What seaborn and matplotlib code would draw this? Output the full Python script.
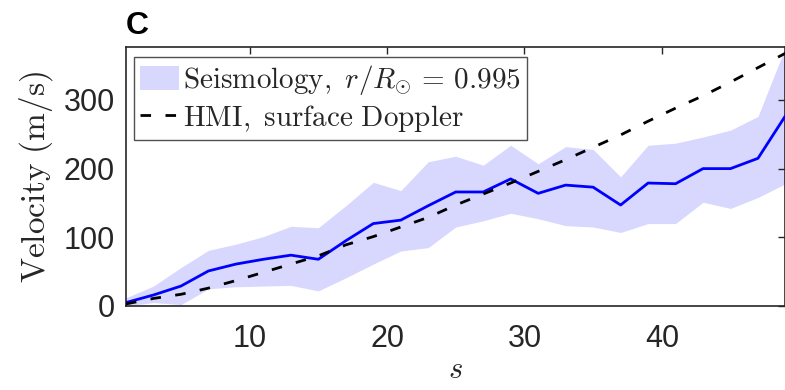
import numpy as np
import pandas as pd
import matplotlib
matplotlib.use("Agg")
import matplotlib.pyplot as plt
import seaborn as sns

# ---- data ----
s_vals = [1, 3, 5, 7, 9, 11, 13, 15, 17, 19, 21, 23, 25, 27, 29, 31, 33, 35, 37, 39, 41, 43, 45, 47, 49]
seis_mean = [5, 16, 29, 51, 61, 68, 74, 68, 95, 120, 125, 146, 166, 166, 185, 164, 176, 173, 147, 179, 178, 200, 200, 215, 277]
seis_upper = [12, 29, 56, 81, 90, 101, 116, 114, 146, 180, 168, 210, 218, 205, 234, 207, 232, 228, 188, 234, 237, 246, 256, 276, 377]
seis_lower = [0, 5, 2, 25, 28, 29, 30, 22, 41, 61, 80, 85, 115, 124, 135, 127, 117, 115, 107, 120, 120, 151, 142, 158, 178]
hmi_vals = [3, 11, 17, 26, 37, 49, 61, 73, 89, 101, 115, 129, 147, 163, 179, 196, 213, 231, 249, 269, 288, 306, 326, 347, 368]

x_ticks = [10, 20, 30, 40]
y_ticks = [0, 100, 200, 300]
panel_label = "C"
legend_labels = [r"$\mathrm{Seismology,}\ r/R_{\odot}\,=\,0.995$", r"$\mathrm{HMI,\ surface\ Doppler}$"]
ylabel = r"$\mathrm{Velocity\ (m/s)}$"
xlabel = r"$s$"

df = pd.DataFrame({"s": s_vals, "seis": seis_mean, "lo": seis_lower, "hi": seis_upper, "hmi": hmi_vals})

sns.set_theme(style="white")
plt.rcParams["font.family"] = ["Liberation Sans", "DejaVu Sans"]
plt.rcParams["mathtext.fontset"] = "cm"

axcol = "#262626"
fig = plt.figure(figsize=(7.85, 3.9), dpi=100)
ax = fig.add_axes([0.1605, 0.2154, 0.8401, 0.664])
ax.set_axisbelow(False)

band = ax.fill_between(df["s"], df["lo"], df["hi"], color="#d8d8ff", linewidth=0, label=legend_labels[0], zorder=1)
sns.lineplot(data=df, x="s", y="seis", color="#0000ff", linewidth=2.0, ax=ax, zorder=3, legend=False)
sns.lineplot(data=df, x="s", y="hmi", color="black", linewidth=2.0, ax=ax, zorder=4, legend=False)
hmi_line = ax.lines[-1]
hmi_line.set_dashes([3.8, 5.2])
hmi_line.set_label(legend_labels[1])

ax.set_xlim(1, 49)
ax.set_ylim(0, 377)
ax.set_xticks(x_ticks)
ax.set_yticks(y_ticks)
ax.tick_params(direction="in", length=5, width=1.0, top=True, right=True, colors=axcol,
               labelsize=22, labelcolor=axcol)
ax.tick_params(axis="x", pad=13)
ax.tick_params(axis="y", pad=8)
for lab in ax.get_xticklabels() + ax.get_yticklabels():
    lab.set_fontfamily("Liberation Sans")
for sp in ax.spines.values():
    sp.set_color(axcol)
    sp.set_linewidth(1.2)

ax.set_xlabel(xlabel, fontsize=22, color=axcol, labelpad=1)
ax.set_ylabel(ylabel, fontsize=24, color=axcol, labelpad=6)

ax.text(0.0, 1.025, panel_label, transform=ax.transAxes, fontsize=23, fontweight="bold",
        color="black", ha="left", va="bottom", fontfamily="Liberation Sans")

leg = ax.legend(handles=[band, hmi_line], labels=legend_labels, loc="upper left",
                bbox_to_anchor=(0.012, 0.96), fontsize=21, frameon=True, fancybox=False,
                handlelength=1.35, handleheight=0.85, handletextpad=0.15, borderpad=0.2,
                labelspacing=0.2, borderaxespad=0.0)
leg.get_frame().set_edgecolor(axcol)
leg.get_frame().set_linewidth(1.0)
for t in leg.get_texts():
    t.set_color(axcol)

fig.savefig("out.png", dpi=100)
